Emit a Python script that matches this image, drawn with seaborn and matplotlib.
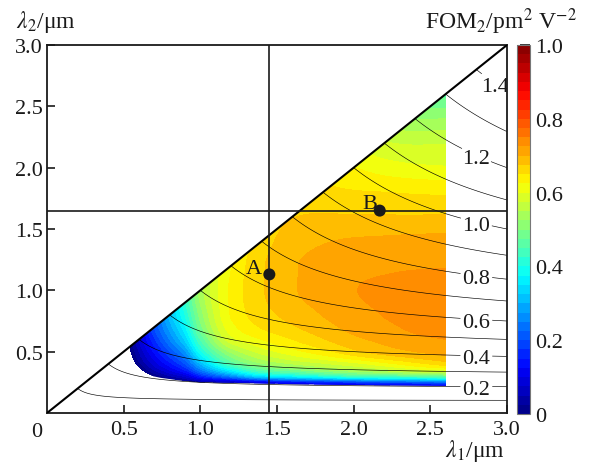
import numpy as np
import matplotlib
matplotlib.use("Agg")
import matplotlib.pyplot as plt
from matplotlib.colors import LinearSegmentedColormap
from matplotlib.patches import Polygon
from matplotlib.transforms import ScaledTranslation
import seaborn as sns

# ---------------- data ----------------
lam1_nodes = [0.5, 0.6, 0.7, 0.8, 0.9, 1.0, 1.2, 1.4, 1.6, 1.8, 2.0, 2.2, 2.4, 2.6]
lam2_nodes = [0.2, 0.25, 0.3, 0.35, 0.4, 0.5, 0.6, 0.7, 0.8, 1.0, 1.2, 1.4, 1.6, 1.8, 2.0, 2.2, 2.4, 2.6]

# FOM2 estimates; one row per lam1 node, values along lam2_nodes
fom_by_lam1 = [
    [-0.20, -0.17, -0.14, -0.11, -0.08, -0.05, -0.04, -0.04, -0.04, -0.04, -0.04, -0.04, -0.04, -0.04, -0.04, -0.04, -0.04, -0.04],  # 0.5
    [-0.12, -0.08, -0.05, -0.02, 0.015, 0.05, 0.075, 0.085, 0.09, 0.09, 0.09, 0.09, 0.09, 0.09, 0.09, 0.09, 0.09, 0.09],            # 0.6
    [-0.10, -0.05, 0.00, 0.05, 0.085, 0.13, 0.17, 0.20, 0.21, 0.21, 0.21, 0.21, 0.21, 0.21, 0.21, 0.21, 0.21, 0.21],               # 0.7
    [-0.08, -0.02, 0.045, 0.10, 0.14, 0.20, 0.25, 0.285, 0.31, 0.32, 0.32, 0.32, 0.32, 0.32, 0.32, 0.32, 0.32, 0.32],              # 0.8
    [-0.06, 0.00, 0.08, 0.15, 0.20, 0.27, 0.33, 0.37, 0.40, 0.43, 0.43, 0.43, 0.43, 0.43, 0.43, 0.43, 0.43, 0.43],                 # 0.9
    [-0.05, 0.03, 0.15, 0.24, 0.30, 0.39, 0.45, 0.49, 0.51, 0.535, 0.535, 0.535, 0.535, 0.535, 0.535, 0.535, 0.535, 0.535],       # 1.0
    [-0.03, 0.06, 0.25, 0.37, 0.45, 0.53, 0.59, 0.615, 0.627, 0.630, 0.623, 0.615, 0.605, 0.595, 0.585, 0.575, 0.565, 0.555],     # 1.2
    [-0.02, 0.10, 0.34, 0.46, 0.52, 0.585, 0.625, 0.652, 0.664, 0.672, 0.671, 0.662, 0.652, 0.640, 0.625, 0.61, 0.59, 0.57],      # 1.4
    [0.00, 0.13, 0.37, 0.49, 0.55, 0.615, 0.650, 0.672, 0.684, 0.697, 0.697, 0.688, 0.674, 0.662, 0.645, 0.625, 0.60, 0.575],     # 1.6
    [0.00, 0.15, 0.40, 0.52, 0.57, 0.640, 0.673, 0.690, 0.701, 0.711, 0.709, 0.698, 0.678, 0.657, 0.636, 0.61, 0.58, 0.55],       # 1.8
    [0.00, 0.17, 0.43, 0.54, 0.59, 0.668, 0.694, 0.708, 0.717, 0.724, 0.718, 0.703, 0.677, 0.652, 0.626, 0.595, 0.56, 0.52],      # 2.0
    [0.00, 0.19, 0.44, 0.56, 0.615, 0.687, 0.707, 0.719, 0.726, 0.730, 0.720, 0.705, 0.677, 0.650, 0.612, 0.577, 0.535, 0.49],    # 2.2
    [0.00, 0.20, 0.45, 0.585, 0.64, 0.700, 0.719, 0.730, 0.736, 0.737, 0.722, 0.707, 0.677, 0.647, 0.605, 0.572, 0.522, 0.47],    # 2.4
    [0.00, 0.22, 0.47, 0.60, 0.662, 0.710, 0.725, 0.737, 0.744, 0.742, 0.723, 0.708, 0.678, 0.645, 0.602, 0.573, 0.525, 0.465],   # 2.6
]

# lower (cut-off) edge of the coloured region
cut_lam1 = [0.535, 0.545, 0.56, 0.59, 0.62, 0.66, 0.69, 0.74, 0.78, 0.88, 1.0, 1.32, 1.6, 2.0, 2.6]
cut_lam2 = [0.535, 0.47, 0.415, 0.37, 0.34, 0.315, 0.30, 0.287, 0.28, 0.263, 0.25, 0.243, 0.235, 0.228, 0.222]

fom_levels = np.linspace(0.0, 1.0, 41)
sfg_levels = [0.1, 0.2, 0.3, 0.4, 0.5, 0.6, 0.7, 0.8, 0.9, 1.0, 1.1, 1.2, 1.3, 1.4]
sfg_label_levels = [0.2, 0.4, 0.6, 0.8, 1.0, 1.2, 1.4]

axis_lim = (0.0, 3.0)
axis_ticks = [0.5, 1.0, 1.5, 2.0, 2.5, 3.0]
axis_ticklabels = ["0.5", "1.0", "1.5", "2.0", "2.5", "3.0"]

cbar_ticks = [0.0, 0.1, 0.2, 0.3, 0.4, 0.5, 0.6, 0.7, 0.8, 0.9, 1.0]
cbar_ticklabels = ["0", "", "0.2", "", "0.4", "", "0.6", "", "0.8", "", "1.0"]
cbar_tick_colors = ["k", "white", "white", "k", "k", "k", "k", "k", "k", "white", "k"]

point_names = ["A", "B"]
point_lam1 = [1.45, 2.17]
point_lam2 = [1.13, 1.65]
point_label_offsets = [(-15, 6), (-10, 7)]  # pixels

ref_lam1 = 1.45
ref_lam2 = 1.65


# ---------------- smooth (monotone cubic) resampling of the table ----------------
def _pchip_slopes(x, y):
    h = np.diff(x)[:, None]
    d = np.diff(y, axis=0) / h
    m = np.zeros_like(y)
    m[0], m[-1] = d[0], d[-1]
    for k in range(1, len(x) - 1):
        d0, d1, h0, h1 = d[k - 1], d[k], h[k - 1], h[k]
        w1, w2 = 2 * h1 + h0, h1 + 2 * h0
        with np.errstate(divide="ignore", invalid="ignore"):
            mk = (w1 + w2) / (w1 / d0 + w2 / d1)
        m[k] = np.where(d0 * d1 > 0, mk, 0.0)
    return m


def _pchip(x, y, xq):
    x = np.asarray(x, float)
    m = _pchip_slopes(x, y)
    i = np.clip(np.searchsorted(x, xq) - 1, 0, len(x) - 2)
    h = (x[i + 1] - x[i])[:, None]
    t = ((xq - x[i]) / (x[i + 1] - x[i]))[:, None]
    return ((2 * t**3 - 3 * t**2 + 1) * y[i] + (t**3 - 2 * t**2 + t) * h * m[i]
            + (-2 * t**3 + 3 * t**2) * y[i + 1] + (t**3 - t**2) * h * m[i + 1])


# ---------------- style ----------------
sns.set_theme(style="ticks")
plt.rcParams["font.family"] = ["Liberation Serif", "DejaVu Serif"]
plt.rcParams["mathtext.fontset"] = "stix"
FS = 16
FS_LABEL = 17
INK = "#1a1a1a"

matlab_jet = LinearSegmentedColormap.from_list(
    "matlab_jet",
    [(0.0, (0, 0, 0.5)), (0.125, (0, 0, 1)), (0.375, (0, 1, 1)),
     (0.625, (1, 1, 0)), (0.875, (1, 0, 0)), (1.0, (0.5, 0, 0))])

fig = plt.figure(figsize=(5.91, 4.64), dpi=100)
ax = fig.add_axes([47 / 591, 1 - 414 / 464, 460 / 591, 368 / 464])
ax.set_xlim(*axis_lim)
ax.set_ylim(*axis_lim)
lo, hi = axis_lim

below_diag = Polygon([(lo, lo), (hi, hi), (hi, lo)], closed=True,
                     transform=ax.transData, facecolor="none", edgecolor="none")
region = Polygon(list(zip(cut_lam1, cut_lam2)) + [(hi, lo), (hi, hi)], closed=True,
                 transform=ax.transData, facecolor="none", edgecolor="none")

# ---------------- filled FOM map ----------------
Z = np.array(fom_by_lam1)                       # (n_lam1, n_lam2)
fx = np.linspace(lam1_nodes[0], lam1_nodes[-1], 430)
fy = np.linspace(lam2_nodes[0], lam2_nodes[-1], 490)
A = _pchip(lam2_nodes, Z.T, fy)                 # (len(fy), n_lam1)
FZ = _pchip(lam1_nodes, A.T, fx).T              # (len(fy), len(fx))
FX, FY = np.meshgrid(fx, fy)
cf = ax.contourf(FX, FY, FZ, levels=fom_levels, cmap=matlab_jet, vmin=0, vmax=1)
cf.set_clip_path(region)

# ---------------- SFG wavelength contours ----------------
g = np.linspace(0.004, hi, 500)
G1, G2 = np.meshgrid(g, g)
lam3 = G1 * G2 / (G1 + G2)
cl = ax.contour(G1, G2, lam3, levels=sfg_levels, colors="black", linewidths=0.45)
label_pos = []
for c in sfg_label_levels:
    x = max(2.8, c + 1.52)
    label_pos.append((x, c * x / (x - c)))
ax.clabel(cl, manual=label_pos, fmt="%.1f", fontsize=FS, inline=True, inline_spacing=2)
shift_down = ScaledTranslation(0, -3 / 100, fig.dpi_scale_trans)
for t in cl.labelTexts:
    t.set_rotation(0)
    t.set_color(INK)
    t.set_transform(t.get_transform() + shift_down)
cl.set_clip_path(below_diag)

# diagonal lam2 = lam1 and reference lines
ax.plot(axis_lim, axis_lim, color="black", lw=1.5, zorder=4)
ax.axvline(ref_lam1, color=INK, lw=1.2, zorder=4)
ax.axhline(ref_lam2, color=INK, lw=1.2, zorder=4)

# points A, B
sns.scatterplot(x=point_lam1, y=point_lam2, color=INK, s=75, edgecolor="none",
                ax=ax, zorder=6, legend=False)
for name, x, y, off in zip(point_names, point_lam1, point_lam2, point_label_offsets):
    ax.annotate(name, xy=(x, y), xytext=off, textcoords="offset pixels",
                ha="center", va="center", fontsize=FS, color=INK)

# ---------------- axes styling ----------------
ax.set_xticks(axis_ticks, axis_ticklabels)
ax.set_yticks(axis_ticks, axis_ticklabels)
ax.tick_params(direction="in", length=6, width=1.2, labelsize=FS, colors=INK,
               top=False, right=False)
ax.tick_params(axis="x", pad=5)
ax.tick_params(axis="y", pad=3)
for s in ax.spines.values():
    s.set_linewidth(1.3)
    s.set_color(INK)
ax.annotate("0", xy=(0, 0), xytext=(-10, -19), textcoords="offset pixels",
            ha="center", va="center", fontsize=FS, color=INK)

fig.text(16 / 591, 1 - 22 / 464, r"$\lambda_2$/μm", ha="left", va="center",
         fontsize=FS_LABEL, color=INK)
fig.text(475 / 591, 1 - 451 / 464, r"$\lambda_1$/μm", ha="center", va="center",
         fontsize=FS_LABEL, color=INK)

# ---------------- colorbar ----------------
cax = fig.add_axes([517 / 591, 1 - 415 / 464, 13 / 591, 369 / 464])
cb = fig.colorbar(cf, cax=cax, ticks=cbar_ticks)
cb.set_ticklabels(cbar_ticklabels)
cax.tick_params(direction="in", length=7, width=1.2, labelsize=FS, pad=4, colors=INK)
for tick, col in zip(cax.yaxis.get_major_ticks(), cbar_tick_colors):
    tick.tick2line.set_color(col)
    tick.tick1line.set_color(col)
cb.outline.set_edgecolor("#777777")
cb.outline.set_linewidth(0.8)
fig.text(501 / 591, 1 - 22 / 464, r"FOM$_2$/pm$^2$ V$^{-2}$", ha="center", va="center",
         fontsize=FS_LABEL, color=INK)

fig.savefig("out.png", dpi=100)
